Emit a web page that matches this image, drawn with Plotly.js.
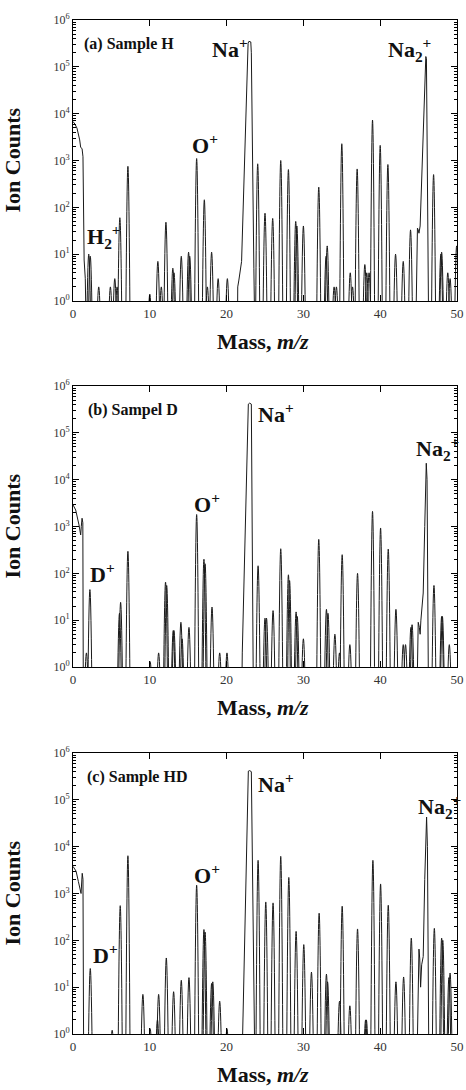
<!DOCTYPE html>
<html>
<head>
<meta charset="utf-8">
<script src="https://cdn.plot.ly/plotly-3.0.1.min.js"></script>
<style>
  html, body { margin: 0; padding: 0; background: #fff; }
  #chart { width: 466px; height: 1090px; }
</style>
</head>
<body>
<div id="chart"></div>
<script>
// ---------- Sample H ----------
const peakMassH = [2.05, 2.25, 3.35, 4.87, 5.44, 5.74, 6.1, 7.15, 10.0, 11.05, 11.5, 12.1, 13.0, 13.15,
  14.1, 15.05, 15.2, 16.1, 17.1, 17.5, 18.05, 18.9, 20.1, 24.05, 25.0, 26.0, 27.05, 28.05, 29.0, 29.15,
  30.0, 32.0, 32.95, 33.1, 34.0, 34.3, 35.0, 36.1, 36.4, 37.0, 38.0, 38.25, 38.55, 39.0, 40.0, 41.0,
  42.0, 43.0, 43.95, 46.95, 47.9, 48.0, 48.8, 49.1, 49.95];
const peakCountsH = [10, 9, 2, 2, 3, 2, 60, 750, 1.4, 7, 2, 48, 5, 4,
  9, 11, 9, 1100, 145, 2, 11, 3, 3, 850, 75, 58, 1000, 640, 50, 40,
  40, 270, 9, 15, 2, 2, 2280, 4, 2, 660, 6, 4, 4, 7300, 2100, 820,
  10, 7, 33, 500, 10, 11, 4, 3, 15];
// low-mass tail, Na+ and Na2+ profiles (segments split by null)
const profileMassH = [0, 0.25, 0.52, 0.75, 0.87, 1.0, 1.1, 1.18, 1.3, 1.35, 1.45, 1.6, 1.75, null,
  21.4, 21.45, 21.6, 21.95, 22.8, 22.9, 23.15, 23.22, 23.55, 23.7, null,
  44.6, 44.75, 44.85, 44.95, 45.05, 45.2, 45.94, 46.02, 46.33];
const profileCountsH = [6800, 6000, 4900, 3500, 2750, 1900, 1850, 1800, 1200, 11, 7.5, 3, 0.1, null,
  0.1, 2, 2.8, 7, 320000, 350000, 340000, 200000, 5, 0.1, null,
  0.1, 25, 36, 33, 28, 40, 166000, 150000, 0.1];

// ---------- Sample D ----------
const peakMassD = [1.75, 2.2, 6.05, 6.2, 7.15, 10.05, 11.15, 12.05, 12.2, 13.05, 13.15, 14.05, 14.2,
  15.1, 16.1, 17.05, 17.2, 18.1, 19.1, 20.05, 24.1, 25.0, 25.2, 26.05, 27.05, 28.05, 28.2, 29.05, 29.2,
  30.0, 32.0, 33.0, 33.2, 34.1, 34.7, 35.05, 36.05, 37.05, 39.0, 40.05, 41.05, 42.05, 43.0, 43.3,
  44.0, 44.15, 47.0, 48.0, 48.1, 49.0];
const peakCountsD = [2, 45, 14, 24, 295, 1.3, 2, 65, 55, 6, 6, 9, 4,
  7, 1800, 200, 160, 19, 2, 2, 145, 11, 11, 16, 335, 93, 70, 15, 12,
  4, 530, 17, 14, 5, 2, 250, 3, 100, 2100, 930, 330, 17, 3, 3,
  7, 8, 55, 12, 12, 3];
const profileMassD = [0, 0.35, 0.78, 1.0, 1.08, 1.18, 1.28, 1.35, null,
  21.95, 22.04, 22.83, 23.0, 23.22, 23.4, 23.5, null,
  44.75, 44.95, 45.1, 45.2, 45.3, 45.6, 45.8, 46.0, 46.1, 46.3];
const profileCountsD = [2900, 2250, 1080, 660, 1000, 1500, 1200, 0.1, null,
  0.1, 2, 410000, 430000, 410000, 100, 0.1, null,
  0.1, 9, 7, 5, 10, 38, 1000, 22400, 10000, 0.1];

// ---------- Sample HD ----------
const peakMassHD = [2.25, 5.1, 6.15, 7.15, 9.1, 10.05, 11.0, 11.15, 12.15, 13.1, 14.1, 15.1, 16.1,
  17.05, 17.2, 18.05, 18.2, 19.1, 20.05, 24.1, 25.1, 26.05, 27.05, 28.1, 29.05, 30.05, 31.05, 32.05,
  33.0, 33.15, 34.7, 35.05, 36.05, 37.05, 38.1, 38.2, 39.05, 40.05, 41.05, 42.05, 43.05, 44.05,
  47.05, 48.0, 48.15, 48.95, 49.1];
const peakCountsHD = [25, 1.2, 550, 6400, 7, 1.3, 2, 7, 42, 8, 14, 16, 1500,
  170, 150, 12, 13, 5, 1.3, 5100, 660, 630, 6200, 2200, 155, 81, 21, 380,
  19, 13, 5, 535, 4, 175, 2, 2, 5100, 1600, 560, 13, 16.5, 112,
  180, 112, 100, 16, 20];
const profileMassHD = [0, 0.4, 0.7, 0.95, 1.05, 1.2, 1.3, 1.4, null,
  22.0, 22.09, 22.83, 23.0, 23.22, 23.57, 23.7, null,
  44.75, 44.95, 45.05, 45.15, 45.26, 45.4, 45.6, 45.8, 46.04, 46.15, 46.35];
const profileCountsHD = [3800, 3000, 1800, 1050, 1000, 2700, 2000, 0.1, null,
  0.1, 1, 410000, 420000, 400000, 8, 0.1, null,
  0.1, 60, 65, 40, 10, 30, 45, 2000, 43000, 10000, 0.1];

// axis ticks
const massTicks = [0, 10, 20, 30, 40, 50];
const countTicks = [1, 10, 100, 1000, 10000, 100000, 1000000];
const countTickText = ['10<sup>0</sup>', '10<sup>1</sup>', '10<sup>2</sup>', '10<sup>3</sup>',
  '10<sup>4</sup>', '10<sup>5</sup>', '10<sup>6</sup>'];

// panel captions and ion labels: [text, mass, log10(counts)]
const panelTitles = ['(a) Sample H', '(b) Sampel D', '(c) Sample HD'];
const ionLabelsH = [['Na<sup>+</sup>', 17.9, 5.41], ['Na<sub>2</sub><sup>+</sup>', 40.8, 5.36],
  ['O<sup>+</sup>', 15.2, 3.35], ['H<sub>2</sub><sup>+</sup>', 1.5, 1.37]];
const ionLabelsD = [['Na<sup>+</sup>', 23.8, 5.43], ['Na<sub>2</sub><sup>+</sup>', 44.4, 4.66],
  ['O<sup>+</sup>', 15.5, 3.5], ['D<sup>+</sup>', 1.9, 2.0]];
const ionLabelsHD = [['Na<sup>+</sup>', 23.8, 5.36], ['Na<sub>2</sub><sup>+</sup>', 44.7, 4.85],
  ['O<sup>+</sup>', 15.5, 3.42], ['D<sup>+</sup>', 2.3, 1.71]];

// ---------- drawing ----------
const FONT = 'Liberation Serif, Times New Roman, serif';
const HALF_WIDTH = 0.3;    // half width of a peak at its foot, in mass units
const FOOT = 0.1;          // zero counts: peaks fall below the bottom of the log axis
const LINE = { color: '#1a1a1a', width: 1 };

function peakTrace(mass, counts, n) {
  const x = [], y = [];
  mass.forEach((m, i) => {
    x.push(m - HALF_WIDTH, m, m + HALF_WIDTH, null);
    y.push(FOOT, counts[i], FOOT, null);
  });
  return { type: 'scatter', mode: 'lines', x, y, connectgaps: false,
    line: Object.assign({ shape: 'spline', smoothing: 1.3 }, LINE),
    xaxis: 'x' + (n > 1 ? n : ''), yaxis: 'y' + (n > 1 ? n : ''), hoverinfo: 'skip' };
}
function profileTrace(mass, counts, n) {
  return { type: 'scatter', mode: 'lines', x: mass, y: counts, connectgaps: false,
    line: Object.assign({ shape: 'linear' }, LINE),
    xaxis: 'x' + (n > 1 ? n : ''), yaxis: 'y' + (n > 1 ? n : ''), hoverinfo: 'skip' };
}

const data = [
  peakTrace(peakMassH, peakCountsH, 1), profileTrace(profileMassH, profileCountsH, 1),
  peakTrace(peakMassD, peakCountsD, 2), profileTrace(profileMassD, profileCountsD, 2),
  peakTrace(peakMassHD, peakCountsHD, 3), profileTrace(profileMassHD, profileCountsHD, 3)
];

const H = 1090, W = 466;
const xDom = [73 / W, 457 / W];
const panelsPx = [[20, 301], [386, 667], [753, 1034]];

function xAxis(n) {
  return { domain: xDom, anchor: 'y' + (n > 1 ? n : ''), range: [0, 50], tickvals: massTicks,
    ticktext: massTicks.map(String), ticks: 'inside', ticklen: 6, tickwidth: 1, tickcolor: '#000',
    showline: true, linecolor: '#000', linewidth: 1, mirror: 'allticks', showgrid: false, zeroline: false,
    tickfont: { family: FONT, size: 13, color: '#333' }, fixedrange: true };
}
function yAxis(n) {
  const p = panelsPx[n - 1];
  return { domain: [(H - p[1]) / H, (H - p[0]) / H], anchor: 'x' + (n > 1 ? n : ''), type: 'log',
    range: [0, 6], tickmode: 'array', tickvals: countTicks, ticktext: countTickText,
    ticks: 'inside', ticklen: 6, tickwidth: 1, tickcolor: '#000',
    minor: { ticks: 'inside', ticklen: 3, tickcolor: '#000', dtick: 'D1', showgrid: false },
    showline: true, linecolor: '#000', linewidth: 1, mirror: 'allticks', showgrid: false, zeroline: false,
    tickfont: { family: FONT, size: 12, color: '#333' }, fixedrange: true };
}

const annotations = [];
[ionLabelsH, ionLabelsD, ionLabelsHD].forEach((labels, k) => {
  const n = k + 1, sx = n > 1 ? n : '';
  annotations.push({ text: '<b>' + panelTitles[k] + '</b>', xref: 'x' + sx, yref: 'y' + sx,
    x: [1.2, 1.66, 1.5][k], y: 5.49, xanchor: 'left', yanchor: 'middle', showarrow: false,
    font: { family: FONT, size: 16, color: '#111' } });
  labels.forEach(l => annotations.push({ text: '<b>' + l[0] + '</b>', xref: 'x' + sx, yref: 'y' + sx,
    x: l[1], y: l[2], xanchor: 'left', yanchor: 'middle', showarrow: false,
    font: { family: FONT, size: 22, color: '#111' } }));
  annotations.push({ text: '<b>Ion Counts</b>', xref: 'paper', yref: 'y' + sx + ' domain',
    x: 12 / W, y: 0.5, xanchor: 'center', yanchor: 'middle', textangle: -90, showarrow: false,
    font: { family: FONT, size: 22, color: '#111' } });
  annotations.push({ text: '<b>Mass, <i>m/z</i></b>', xref: 'x' + sx + ' domain', yref: 'y' + sx + ' domain',
    x: 0.495, y: -0.145, xanchor: 'center', yanchor: 'middle', showarrow: false,
    font: { family: FONT, size: 22, color: '#111' } });
});

const layout = {
  width: W, height: H, margin: { l: 0, r: 0, t: 0, b: 0 }, showlegend: false,
  paper_bgcolor: '#fff', plot_bgcolor: '#fff',
  xaxis: xAxis(1), yaxis: yAxis(1), xaxis2: xAxis(2), yaxis2: yAxis(2), xaxis3: xAxis(3), yaxis3: yAxis(3),
  annotations
};

Plotly.newPlot('chart', data, layout, { displayModeBar: false, staticPlot: true });
</script>
</body>
</html>
